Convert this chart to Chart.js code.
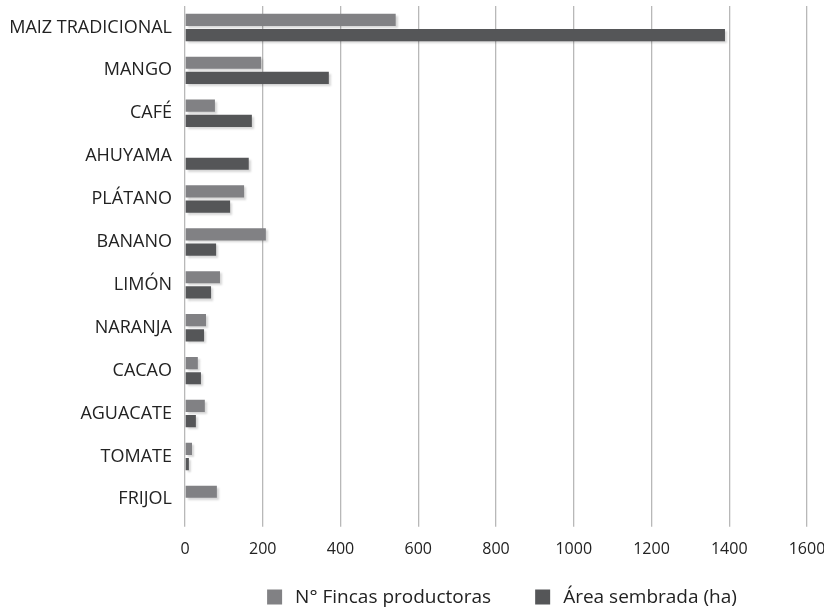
<!DOCTYPE html>
<html>
<head>
<meta charset="utf-8">
<script src="https://cdn.jsdelivr.net/npm/chart.js@4/dist/chart.umd.min.js"></script>
<style>
html,body{margin:0;padding:0;background:#fff;}
#wrap{width:824px;height:608px;}
</style>
</head>
<body>
<div id="wrap"><canvas id="c" width="824" height="608"></canvas></div>
<script>
const categories = ["MAIZ TRADICIONAL","MANGO","CAFÉ","AHUYAMA","PLÁTANO","BANANO","LIMÓN","NARANJA","CACAO","AGUACATE","TOMATE","FRIJOL"];
const fincas = [542, 196, 77, 0, 152, 208, 90, 54, 33, 51, 18, 82];
const area = [1389, 370, 172, 164, 116, 80, 67, 49, 41, 28, 10, 0];
const xTicks = [0,200,400,600,800,1000,1200,1400,1600];
const seriesNames = ['N° Fincas productoras', 'Área sembrada (ha)'];
const seriesColors = ['#818184', '#555658'];

const shadowPlugin = {
  id: 'barShadow',
  beforeDatasetsDraw(chart){
    const ctx = chart.ctx;
    ctx.save();
    ctx.shadowColor = 'rgba(0,0,0,0.16)';
    ctx.shadowBlur = 2;
    ctx.shadowOffsetX = 2;
    ctx.shadowOffsetY = 2;
  },
  afterDatasetsDraw(chart){
    chart.ctx.restore();
  }
};

// Legend drawn below the plot, centred on the plot area
const bottomLegend = {
  id: 'bottomLegend',
  afterDraw(chart){
    const ctx = chart.ctx;
    const font = '19px "Open Sans"';
    const box = 15, gapText = 13, gapItem = 44;
    ctx.save();
    ctx.font = font;
    const items = chart.data.datasets.map(d => ({text: d.label, color: d.backgroundColor, w: ctx.measureText(d.label).width}));
    let total = 0;
    items.forEach((it, i) => { total += box + gapText + it.w + (i < items.length - 1 ? gapItem : 0); });
    const ca = chart.chartArea;
    let x = (ca.left + ca.right) / 2 + 6 - total / 2;
    const cy = 597;
    ctx.textBaseline = 'middle';
    ctx.textAlign = 'left';
    items.forEach(it => {
      ctx.fillStyle = it.color;
      ctx.fillRect(x, cy - box / 2, box, box);
      x += box + gapText;
      ctx.fillStyle = '#222';
      ctx.fillText(it.text, x, cy + 1);
      x += it.w + gapItem;
    });
    ctx.restore();
  }
};

new Chart(document.getElementById('c'), {
  type: 'bar',
  data: {
    labels: categories,
    datasets: [
      {label: seriesNames[0], data: fincas, backgroundColor: seriesColors[0], categoryPercentage: 0.71, barPercentage: 0.8},
      {label: seriesNames[1], data: area, backgroundColor: seriesColors[1], categoryPercentage: 0.71, barPercentage: 0.8}
    ]
  },
  options: {
    indexAxis: 'y',
    responsive: false,
    animation: false,
    layout: {padding: {top: 6, left: 0, right: 0, bottom: 36}},
    plugins: {
      tooltip: {enabled: false},
      legend: {display: false}
    },
    scales: {
      x: {
        min: 0, max: 1600,
        afterBuildTicks(scale){ scale.ticks = xTicks.map(v => ({value: v})); },
        afterFit(scale){ scale.paddingRight = 17; scale.paddingLeft = 0; },
        grid: {color: '#b8b8b8', lineWidth: 1.3, tickLength: 6, drawTicks: true},
        border: {display: false},
        ticks: {color: '#222', font: {family: 'Open Sans', size: 16}, padding: 13, callback: v => String(v), maxRotation: 0}
      },
      y: {
        grid: {display: false},
        border: {display: false},
        afterFit(scale){ scale.paddingTop = 0; scale.paddingBottom = 0; scale.width = 185; },
        ticks: {color: '#222', font: {family: 'Open Sans', size: 18}, padding: 5}
      }
    }
  },
  plugins: [shadowPlugin, bottomLegend]
});
</script>
</body>
</html>
